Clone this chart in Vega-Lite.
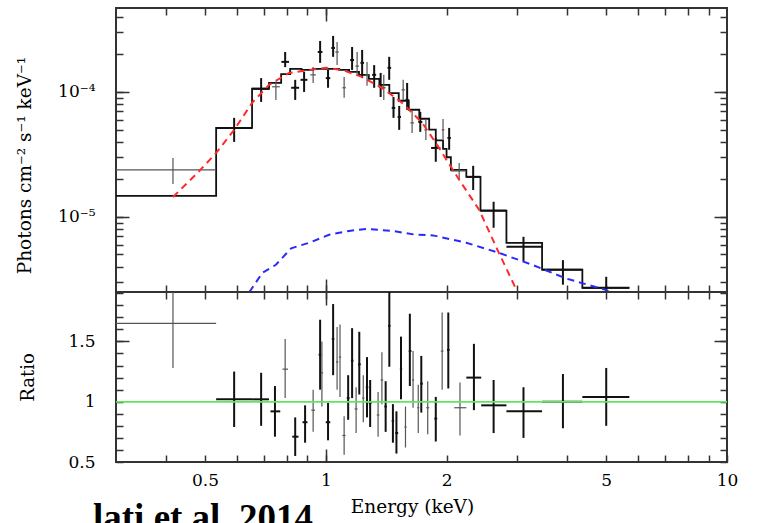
{
  "$schema": "https://vega.github.io/schema/vega-lite/v6.json",
  "background": "white",
  "padding": {"left": 14, "top": 6, "right": 20, "bottom": 0},
  "spacing": 0,
  "bounds": "flush",
  "title": {"text": "lati et al. 2014", "orient": "bottom", "anchor": "start", "font": "Liberation Serif", "fontSize": 37, "fontWeight": "bold", "color": "#000", "offset": -16, "dx": 79},
  "datasets": {
    "model": [
      {"E": 0.30, "F": 1.47e-5}, {"E": 0.533, "F": 5.15e-5}, {"E": 0.655, "F": 1.06e-4}, {"E": 0.722, "F": 1.18e-4},
      {"E": 0.774, "F": 1.39e-4}, {"E": 0.815, "F": 1.53e-4}, {"E": 0.87, "F": 1.50e-4}, {"E": 0.93, "F": 1.53e-4},
      {"E": 1.08, "F": 1.50e-4}, {"E": 1.143, "F": 1.45e-4}, {"E": 1.21, "F": 1.37e-4}, {"E": 1.28, "F": 1.27e-4},
      {"E": 1.36, "F": 1.14e-4}, {"E": 1.44, "F": 0.98e-4}, {"E": 1.52, "F": 0.85e-4}, {"E": 1.61, "F": 0.72e-4},
      {"E": 1.71, "F": 0.61e-4}, {"E": 1.81, "F": 0.50e-4}, {"E": 1.88, "F": 0.41e-4}, {"E": 1.96, "F": 0.35e-4},
      {"E": 2.0, "F": 0.30e-4}, {"E": 2.05, "F": 0.238e-4}, {"E": 2.24, "F": 0.209e-4}, {"E": 2.43, "F": 0.112e-4},
      {"E": 2.82, "F": 6.19e-6}, {"E": 3.46, "F": 3.77e-6}, {"E": 4.36, "F": 2.70e-6}, {"E": 5.71, "F": 2.70e-6}
    ],
    "red": [
      {"E": 0.416, "F": 1.44e-5}, {"E": 0.479, "F": 2.25e-5}, {"E": 0.533, "F": 3.25e-5}, {"E": 0.591, "F": 4.97e-5},
      {"E": 0.655, "F": 8.17e-5}, {"E": 0.722, "F": 1.14e-4}, {"E": 0.81, "F": 1.42e-4}, {"E": 0.909, "F": 1.50e-4},
      {"E": 1.0, "F": 1.56e-4}, {"E": 1.10, "F": 1.50e-4}, {"E": 1.23, "F": 1.32e-4}, {"E": 1.38, "F": 1.08e-4},
      {"E": 1.55, "F": 0.817e-4}, {"E": 1.74, "F": 0.565e-4}, {"E": 1.88, "F": 0.391e-4}, {"E": 2.15, "F": 0.198e-4},
      {"E": 2.41, "F": 1.14e-5}, {"E": 2.70, "F": 5.15e-6}, {"E": 2.97, "F": 2.70e-6}, {"E": 3.0, "F": 2.5e-6}
    ],
    "blue": [
      {"E": 0.645, "F": 2.5e-6}, {"E": 0.695, "F": 3.56e-6}, {"E": 0.751, "F": 4.13e-6}, {"E": 0.82, "F": 5.6e-6},
      {"E": 0.909, "F": 6.2e-6}, {"E": 1.019, "F": 7.18e-6}, {"E": 1.143, "F": 7.71e-6}, {"E": 1.26, "F": 8.0e-6},
      {"E": 1.47, "F": 7.7e-6}, {"E": 1.67, "F": 7.2e-6}, {"E": 1.85, "F": 7.1e-6}, {"E": 2.24, "F": 6.2e-6},
      {"E": 2.70, "F": 5.15e-6}, {"E": 3.27, "F": 4.13e-6}, {"E": 3.98, "F": 3.2e-6}, {"E": 4.98, "F": 2.6e-6},
      {"E": 5.1, "F": 2.5e-6}
    ],
    "pts": [
      {"E": 0.416, "El": 0.30, "Eh": 0.533, "F": 2.38e-5, "Fl": 1.83e-5, "Fh": 2.96e-5, "s": "b"},
      {"E": 0.591, "El": 0.533, "Eh": 0.655, "F": 5.15e-5, "Fl": 3.98e-5, "Fh": 6.2e-5, "s": "a"},
      {"E": 0.690, "El": 0.655, "Eh": 0.722, "F": 1.06e-4, "Fl": 8.32e-5, "Fh": 1.29e-4, "s": "a"},
      {"E": 0.751, "El": 0.735, "Eh": 0.768, "F": 1.10e-4, "Fl": 8.63e-5, "Fh": 1.22e-4, "s": "b"},
      {"E": 0.792, "El": 0.775, "Eh": 0.81, "F": 1.74e-4, "Fl": 1.58e-4, "Fh": 2.09e-4, "s": "a"},
      {"E": 0.839, "El": 0.82, "Eh": 0.858, "F": 1.08e-4, "Fl": 0.863e-4, "Fh": 1.25e-4, "s": "a"},
      {"E": 0.883, "El": 0.865, "Eh": 0.90, "F": 1.25e-4, "Fl": 1.0e-4, "Fh": 1.45e-4, "s": "a"},
      {"E": 0.930, "El": 0.915, "Eh": 0.945, "F": 1.37e-4, "Fl": 1.18e-4, "Fh": 1.58e-4, "s": "b"},
      {"E": 0.968, "El": 0.955, "Eh": 0.981, "F": 2.09e-4, "Fl": 1.71e-4, "Fh": 2.56e-4, "s": "a"},
      {"E": 1.013, "El": 1.0, "Eh": 1.026, "F": 1.29e-4, "Fl": 1.08e-4, "Fh": 1.50e-4, "s": "a"},
      {"E": 1.043, "El": 1.032, "Eh": 1.054, "F": 2.25e-4, "Fl": 1.91e-4, "Fh": 2.81e-4, "s": "a"},
      {"E": 1.067, "El": 1.056, "Eh": 1.078, "F": 2.09e-4, "Fl": 1.64e-4, "Fh": 2.51e-4, "s": "b"},
      {"E": 1.111, "El": 1.10, "Eh": 1.122, "F": 1.08e-4, "Fl": 0.90e-4, "Fh": 1.32e-4, "s": "b"},
      {"E": 1.163, "El": 1.15, "Eh": 1.176, "F": 1.80e-4, "Fl": 1.50e-4, "Fh": 2.29e-4, "s": "a"},
      {"E": 1.197, "El": 1.185, "Eh": 1.21, "F": 1.61e-4, "Fl": 1.37e-4, "Fh": 2.09e-4, "s": "b"},
      {"E": 1.232, "El": 1.22, "Eh": 1.245, "F": 1.71e-4, "Fl": 1.29e-4, "Fh": 2.17e-4, "s": "a"},
      {"E": 1.267, "El": 1.255, "Eh": 1.28, "F": 1.37e-4, "Fl": 1.12e-4, "Fh": 1.74e-4, "s": "b"},
      {"E": 1.32, "El": 1.305, "Eh": 1.335, "F": 1.37e-4, "Fl": 1.08e-4, "Fh": 1.64e-4, "s": "a"},
      {"E": 1.37, "El": 1.355, "Eh": 1.385, "F": 1.10e-4, "Fl": 0.91e-4, "Fh": 1.42e-4, "s": "a"},
      {"E": 1.395, "El": 1.385, "Eh": 1.41, "F": 1.08e-4, "Fl": 0.863e-4, "Fh": 1.37e-4, "s": "b"},
      {"E": 1.439, "El": 1.425, "Eh": 1.455, "F": 1.56e-4, "Fl": 1.25e-4, "Fh": 1.91e-4, "s": "a"},
      {"E": 1.475, "El": 1.46, "Eh": 1.49, "F": 0.745e-4, "Fl": 0.62e-4, "Fh": 0.91e-4, "s": "a"},
      {"E": 1.524, "El": 1.51, "Eh": 1.54, "F": 0.631e-4, "Fl": 0.497e-4, "Fh": 0.773e-4, "s": "a"},
      {"E": 1.559, "El": 1.545, "Eh": 1.575, "F": 1.04e-4, "Fl": 0.863e-4, "Fh": 1.25e-4, "s": "b"},
      {"E": 1.595, "El": 1.58, "Eh": 1.61, "F": 0.863e-4, "Fl": 0.718e-4, "Fh": 1.18e-4, "s": "a"},
      {"E": 1.641, "El": 1.625, "Eh": 1.66, "F": 0.565e-4, "Fl": 0.47e-4, "Fh": 0.718e-4, "s": "b"},
      {"E": 1.72, "El": 1.70, "Eh": 1.74, "F": 0.575e-4, "Fl": 0.479e-4, "Fh": 0.692e-4, "s": "a"},
      {"E": 1.776, "El": 1.76, "Eh": 1.79, "F": 0.497e-4, "Fl": 0.413e-4, "Fh": 0.608e-4, "s": "b"},
      {"E": 1.88, "El": 1.83, "Eh": 1.93, "F": 0.356e-4, "Fl": 0.276e-4, "Fh": 0.428e-4, "s": "a"},
      {"E": 1.96, "El": 1.945, "Eh": 1.975, "F": 0.497e-4, "Fl": 0.42e-4, "Fh": 0.608e-4, "s": "b"},
      {"E": 2.03, "El": 2.01, "Eh": 2.05, "F": 0.428e-4, "Fl": 0.344e-4, "Fh": 0.515e-4, "s": "a"},
      {"E": 2.15, "El": 2.05, "Eh": 2.24, "F": 0.233e-4, "Fl": 0.198e-4, "Fh": 0.27e-4, "s": "b"},
      {"E": 2.33, "El": 2.24, "Eh": 2.43, "F": 0.209e-4, "Fl": 0.164e-4, "Fh": 0.256e-4, "s": "a"},
      {"E": 2.62, "El": 2.43, "Eh": 2.82, "F": 1.12e-5, "Fl": 8.17e-6, "Fh": 1.32e-5, "s": "a"},
      {"E": 3.11, "El": 2.82, "Eh": 3.46, "F": 5.75e-6, "Fl": 4.37e-6, "Fh": 6.92e-6, "s": "a"},
      {"E": 3.90, "El": 3.46, "Eh": 4.36, "F": 3.77e-6, "Fl": 2.86e-6, "Fh": 4.5e-6, "s": "a"},
      {"E": 5.0, "El": 4.36, "Eh": 5.71, "F": 2.70e-6, "Fl": 2.5e-6, "Fh": 3.31e-6, "s": "a"}
    ],
    "ratio": [
      {"E": 0.416, "El": 0.30, "Eh": 0.533, "R": 1.65, "Rl": 1.28, "Rh": 1.91, "s": "b"},
      {"E": 0.591, "El": 0.533, "Eh": 0.655, "R": 1.02, "Rl": 0.79, "Rh": 1.25, "s": "a"},
      {"E": 0.690, "El": 0.655, "Eh": 0.722, "R": 1.02, "Rl": 0.80, "Rh": 1.24, "s": "a"},
      {"E": 0.747, "El": 0.728, "Eh": 0.77, "R": 0.92, "Rl": 0.71, "Rh": 1.13, "s": "a"},
      {"E": 0.792, "El": 0.78, "Eh": 0.805, "R": 1.27, "Rl": 1.03, "Rh": 1.52, "s": "b"},
      {"E": 0.839, "El": 0.825, "Eh": 0.855, "R": 0.71, "Rl": 0.55, "Rh": 0.87, "s": "a"},
      {"E": 0.888, "El": 0.875, "Eh": 0.90, "R": 0.83, "Rl": 0.66, "Rh": 0.97, "s": "a"},
      {"E": 0.930, "El": 0.92, "Eh": 0.94, "R": 0.93, "Rl": 0.75, "Rh": 1.10, "s": "b"},
      {"E": 0.968, "El": 0.96, "Eh": 0.975, "R": 1.39, "Rl": 1.10, "Rh": 1.68, "s": "a"},
      {"E": 0.978, "El": 0.972, "Eh": 0.985, "R": 1.24, "Rl": 0.96, "Rh": 1.50, "s": "b"},
      {"E": 1.013, "El": 1.0, "Eh": 1.026, "R": 0.83, "Rl": 0.68, "Rh": 0.99, "s": "a"},
      {"E": 1.043, "El": 1.035, "Eh": 1.05, "R": 1.52, "Rl": 1.22, "Rh": 1.81, "s": "a"},
      {"E": 1.067, "El": 1.06, "Eh": 1.075, "R": 1.33, "Rl": 1.10, "Rh": 1.62, "s": "b"},
      {"E": 1.085, "El": 1.078, "Eh": 1.092, "R": 1.37, "Rl": 1.04, "Rh": 1.64, "s": "b"},
      {"E": 1.111, "El": 1.10, "Eh": 1.12, "R": 0.72, "Rl": 0.56, "Rh": 0.88, "s": "b"},
      {"E": 1.137, "El": 1.128, "Eh": 1.146, "R": 1.03, "Rl": 0.85, "Rh": 1.22, "s": "a"},
      {"E": 1.163, "El": 1.155, "Eh": 1.172, "R": 1.34, "Rl": 1.03, "Rh": 1.61, "s": "a"},
      {"E": 1.19, "El": 1.18, "Eh": 1.20, "R": 0.94, "Rl": 0.74, "Rh": 1.12, "s": "b"},
      {"E": 1.212, "El": 1.203, "Eh": 1.222, "R": 1.31, "Rl": 1.06, "Rh": 1.58, "s": "a"},
      {"E": 1.24, "El": 1.232, "Eh": 1.248, "R": 1.03, "Rl": 0.83, "Rh": 1.22, "s": "b"},
      {"E": 1.267, "El": 1.258, "Eh": 1.276, "R": 1.12, "Rl": 0.87, "Rh": 1.37, "s": "a"},
      {"E": 1.29, "El": 1.28, "Eh": 1.30, "R": 0.99, "Rl": 0.79, "Rh": 1.18, "s": "a"},
      {"E": 1.35, "El": 1.34, "Eh": 1.36, "R": 0.89, "Rl": 0.71, "Rh": 1.08, "s": "b"},
      {"E": 1.38, "El": 1.37, "Eh": 1.39, "R": 1.18, "Rl": 0.98, "Rh": 1.41, "s": "b"},
      {"E": 1.41, "El": 1.40, "Eh": 1.42, "R": 0.96, "Rl": 0.75, "Rh": 1.17, "s": "a"},
      {"E": 1.44, "El": 1.43, "Eh": 1.45, "R": 1.63, "Rl": 1.29, "Rh": 1.91, "s": "a"},
      {"E": 1.47, "El": 1.46, "Eh": 1.48, "R": 0.84, "Rl": 0.66, "Rh": 0.98, "s": "a"},
      {"E": 1.50, "El": 1.49, "Eh": 1.515, "R": 0.74, "Rl": 0.57, "Rh": 0.92, "s": "a"},
      {"E": 1.54, "El": 1.53, "Eh": 1.55, "R": 1.27, "Rl": 1.02, "Rh": 1.54, "s": "a"},
      {"E": 1.58, "El": 1.57, "Eh": 1.59, "R": 0.79, "Rl": 0.62, "Rh": 0.96, "s": "b"},
      {"E": 1.62, "El": 1.61, "Eh": 1.635, "R": 1.42, "Rl": 1.13, "Rh": 1.73, "s": "a"},
      {"E": 1.65, "El": 1.64, "Eh": 1.66, "R": 1.18, "Rl": 0.95, "Rh": 1.42, "s": "b"},
      {"E": 1.70, "El": 1.69, "Eh": 1.71, "R": 0.95, "Rl": 0.74, "Rh": 1.14, "s": "b"},
      {"E": 1.73, "El": 1.72, "Eh": 1.745, "R": 1.15, "Rl": 0.91, "Rh": 1.38, "s": "a"},
      {"E": 1.795, "El": 1.78, "Eh": 1.81, "R": 0.95, "Rl": 0.73, "Rh": 1.17, "s": "b"},
      {"E": 1.88, "El": 1.865, "Eh": 1.895, "R": 0.86, "Rl": 0.67, "Rh": 1.04, "s": "a"},
      {"E": 1.95, "El": 1.935, "Eh": 1.965, "R": 1.42, "Rl": 1.10, "Rh": 1.74, "s": "b"},
      {"E": 2.02, "El": 2.005, "Eh": 2.035, "R": 1.43, "Rl": 1.11, "Rh": 1.74, "s": "a"},
      {"E": 2.16, "El": 2.09, "Eh": 2.24, "R": 0.95, "Rl": 0.72, "Rh": 1.16, "s": "b"},
      {"E": 2.34, "El": 2.24, "Eh": 2.44, "R": 1.20, "Rl": 0.93, "Rh": 1.48, "s": "a"},
      {"E": 2.62, "El": 2.44, "Eh": 2.82, "R": 0.97, "Rl": 0.74, "Rh": 1.18, "s": "a"},
      {"E": 3.11, "El": 2.82, "Eh": 3.46, "R": 0.92, "Rl": 0.70, "Rh": 1.12, "s": "a"},
      {"E": 3.90, "El": 3.46, "Eh": 4.36, "R": 1.0, "Rl": 0.78, "Rh": 1.23, "s": "a"},
      {"E": 5.0, "El": 4.36, "Eh": 5.71, "R": 1.04, "Rl": 0.80, "Rh": 1.28, "s": "a"}
    ],
    "unity": [{"E": 0.3, "R": 1}, {"E": 10, "R": 1}]
  },
  "vconcat": [
    {
      "width": 611,
      "height": 284,
      "layer": [
        {
          "data": {"name": "model"},
          "mark": {"type": "line", "interpolate": "step-after", "color": "#111", "strokeWidth": 1.8, "clip": true},
          "encoding": {
            "x": {"field": "E", "type": "quantitative", "scale": {"type": "log", "domain": [0.3, 10], "nice": false},
                  "axis": {"orient": "bottom", "values": [0.4,0.5,0.6,0.7,0.8,0.9,1,2,3,4,5,6,7,8,9], "labels": false, "tickSize": -7, "title": null}},
            "y": {"field": "F", "type": "quantitative", "scale": {"type": "log", "domain": [2.5e-6, 4.7e-4], "nice": false},
                  "axis": {"orient": "left", "values": [3e-6,4e-6,5e-6,6e-6,7e-6,8e-6,9e-6,1e-5,2e-5,3e-5,4e-5,5e-5,6e-5,7e-5,8e-5,9e-5,1e-4,2e-4,3e-4,4e-4],
                           "tickSize": -7, "labelPadding": 28, "labelOverlap": false,
                           "labelExpr": "abs(log(datum.value)/log(10)+4)<0.01 ? '10⁻⁴' : (abs(log(datum.value)/log(10)+5)<0.01 ? '10⁻⁵' : '')",
                           "title": "Photons cm⁻² s⁻¹ keV⁻¹", "titleFontSize": 18.5, "titleX": -82, "titleY": 157}}
          }
        },
        {
          "data": {"name": "pts"},
          "mark": {"type": "rule", "clip": true},
          "encoding": {
            "x": {"field": "El", "type": "quantitative", "axis": {"orient": "top", "values": [0.4,0.5,0.6,0.7,0.8,0.9,1,2,3,4,5,6,7,8,9], "labels": false, "tickSize": -7, "title": null}},
            "x2": {"field": "Eh"},
            "y": {"field": "F", "type": "quantitative", "axis": {"orient": "right", "values": [3e-6,4e-6,5e-6,6e-6,7e-6,8e-6,9e-6,1e-5,2e-5,3e-5,4e-5,5e-5,6e-5,7e-5,8e-5,9e-5,1e-4,2e-4,3e-4,4e-4], "labels": false, "tickSize": -7, "title": null}},
            "color": {"field": "s", "type": "nominal", "scale": {"domain": ["a", "b"], "range": ["#111111", "#555555"]}, "legend": null},
            "strokeWidth": {"field": "s", "type": "ordinal", "scale": {"domain": ["a", "b"], "range": [2, 1.2]}, "legend": null}
          }
        },
        {
          "data": {"name": "pts"},
          "mark": {"type": "rule", "clip": true},
          "encoding": {
            "x": {"field": "E", "type": "quantitative", "axis": {"orient": "bottom", "values": [1], "labels": false, "tickSize": -13, "title": null}},
            "y": {"field": "Fl", "type": "quantitative", "axis": {"orient": "left", "values": [1e-5, 1e-4], "labels": false, "tickSize": -13, "title": null}},
            "y2": {"field": "Fh"},
            "color": {"field": "s", "type": "nominal", "scale": {"domain": ["a", "b"], "range": ["#111111", "#555555"]}, "legend": null},
            "strokeWidth": {"field": "s", "type": "ordinal", "scale": {"domain": ["a", "b"], "range": [2, 1.2]}, "legend": null}
          }
        },
        {
          "data": {"name": "red"},
          "mark": {"type": "line", "color": "#ff2a2a", "strokeWidth": 2, "strokeDash": [7, 5], "clip": true},
          "encoding": {
            "x": {"field": "E", "type": "quantitative", "axis": {"orient": "top", "values": [1], "labels": false, "tickSize": -13, "title": null}},
            "y": {"field": "F", "type": "quantitative", "axis": {"orient": "right", "values": [1e-5, 1e-4], "labels": false, "tickSize": -13, "title": null}}
          }
        },
        {
          "data": {"name": "blue"},
          "mark": {"type": "line", "color": "#2a2aff", "strokeWidth": 2, "strokeDash": [7, 5], "clip": true},
          "encoding": {
            "x": {"field": "E", "type": "quantitative", "axis": null},
            "y": {"field": "F", "type": "quantitative", "axis": null}
          }
        }
      ],
      "resolve": {"axis": {"x": "independent", "y": "independent"}}
    },
    {
      "width": 611,
      "height": 170,
      "layer": [
        {
          "data": {"name": "ratio"},
          "mark": {"type": "rule", "clip": true},
          "encoding": {
            "x": {"field": "El", "type": "quantitative", "scale": {"type": "log", "domain": [0.3, 10], "nice": false},
                  "axis": {"orient": "bottom", "values": [0.4,0.5,0.6,0.7,0.8,0.9,1,2,3,4,5,6,7,8,9,10], "tickSize": -7, "labelPadding": 17, "labelOverlap": false, "labelFlush": false,
                           "labelExpr": "(datum.value==0.5||datum.value==1||datum.value==2||datum.value==5||datum.value==10) ? format(datum.value, '~g') : ''",
                           "title": "Energy (keV)", "titleX": 296, "titleY": 35, "titleBaseline": "top", "titleFontSize": 18.5}},
            "x2": {"field": "Eh"},
            "y": {"field": "R", "type": "quantitative", "scale": {"domain": [0.5, 1.91], "nice": false, "zero": false},
                  "axis": {"orient": "left", "values": [0.5,0.6,0.7,0.8,0.9,1,1.1,1.2,1.3,1.4,1.5,1.6,1.7,1.8,1.9], "tickSize": -7, "labelPadding": 28, "labelOverlap": false,
                           "labelExpr": "abs(datum.value-0.5)<0.01 ? '0.5' : (abs(datum.value-1)<0.01 ? '1' : (abs(datum.value-1.5)<0.01 ? '1.5' : ''))",
                           "title": "Ratio", "titlePadding": 30}},
            "color": {"field": "s", "type": "nominal", "scale": {"domain": ["a", "b"], "range": ["#111111", "#555555"]}, "legend": null},
            "strokeWidth": {"field": "s", "type": "ordinal", "scale": {"domain": ["a", "b"], "range": [2, 1.2]}, "legend": null}
          }
        },
        {
          "data": {"name": "ratio"},
          "mark": {"type": "rule", "clip": true},
          "encoding": {
            "x": {"field": "E", "type": "quantitative", "axis": {"orient": "top", "values": [0.4,0.5,0.6,0.7,0.8,0.9,1,2,3,4,5,6,7,8,9], "labels": false, "tickSize": -7, "title": null}},
            "y": {"field": "Rl", "type": "quantitative", "axis": {"orient": "right", "values": [0.5,0.6,0.7,0.8,0.9,1,1.1,1.2,1.3,1.4,1.5,1.6,1.7,1.8,1.9], "labels": false, "tickSize": -7, "title": null}},
            "y2": {"field": "Rh"},
            "color": {"field": "s", "type": "nominal", "scale": {"domain": ["a", "b"], "range": ["#111111", "#555555"]}, "legend": null},
            "strokeWidth": {"field": "s", "type": "ordinal", "scale": {"domain": ["a", "b"], "range": [2, 1.2]}, "legend": null}
          }
        },
        {
          "data": {"name": "unity"},
          "mark": {"type": "line", "color": "#5fe85f", "strokeWidth": 1.5, "clip": true},
          "encoding": {
            "x": {"field": "E", "type": "quantitative", "axis": {"orient": "bottom", "values": [1], "labels": false, "tickSize": -13, "title": null}},
            "y": {"field": "R", "type": "quantitative", "axis": {"orient": "left", "values": [1.5], "labels": false, "tickSize": -13, "title": null}}
          }
        },
        {
          "data": {"name": "unity"},
          "mark": {"type": "line", "color": "#5fe85f", "strokeWidth": 1.5, "clip": true},
          "encoding": {
            "x": {"field": "E", "type": "quantitative", "axis": {"orient": "top", "values": [1], "labels": false, "tickSize": -13, "title": null}},
            "y": {"field": "R", "type": "quantitative", "axis": {"orient": "right", "values": [1.5], "labels": false, "tickSize": -13, "title": null}}
          }
        }
      ],
      "resolve": {"axis": {"x": "independent", "y": "independent"}}
    }
  ],
  "config": {
    "view": {"stroke": "#333333", "strokeWidth": 2},
    "axis": {"domain": false, "grid": false, "labelFont": "DejaVu Serif", "labelFontSize": 17, "labelColor": "#000000",
             "titleFont": "DejaVu Serif", "titleFontSize": 18, "titleFontWeight": "normal", "titleColor": "#000000",
             "tickColor": "#333333", "tickWidth": 1.5}
  }
}
